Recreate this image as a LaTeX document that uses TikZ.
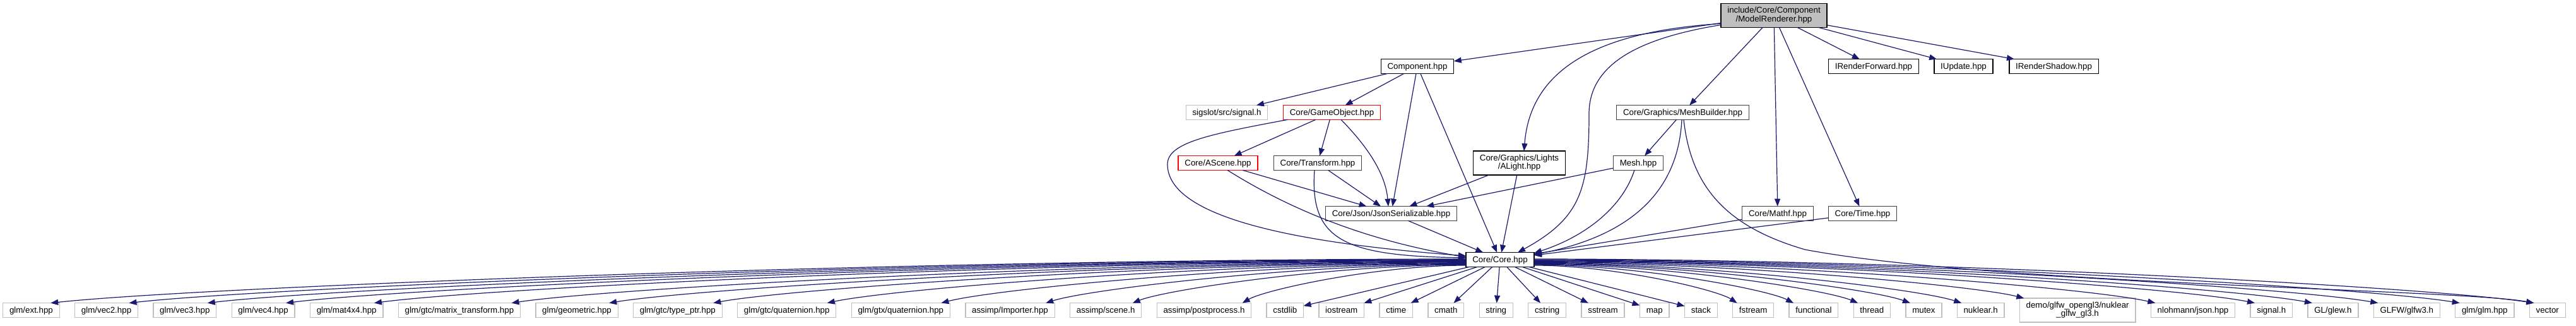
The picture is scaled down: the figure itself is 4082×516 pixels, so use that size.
\documentclass[tikz,border=0pt]{standalone}
\usepackage{fontspec}
\newfontfamily\dfont{Liberation Sans}
\usetikzlibrary{arrows.meta,positioning,calc}
\definecolor{edgeblue}{HTML}{191970}
\definecolor{grey75}{HTML}{BFBFBF}
\definecolor{dkgray}{HTML}{404040}
\newcommand\nodefont{\dfont\fontsize{13.33}{13}\selectfont}
\newcommand\twol[2]{\begin{tabular}{@{}c@{}}#1\\#2\end{tabular}}
\begin{document}
\begin{tikzpicture}[x=1pt,y=1pt,
  base/.style={draw, line width=1.33pt, fill=white, inner xsep=10.3pt, inner ysep=5.35pt, outer sep=0pt, font=\nodefont},
  one/.style={base, minimum height=22.7pt, text height=9.4pt, text depth=0pt},
  two/.style={base},
  blk/.style={draw=black},
  dk/.style={draw=dkgray},
  xnode/.style={draw=grey75},
  trunc/.style={draw=red},
  root/.style={draw=black, fill=grey75},
  dep/.style={draw=edgeblue, line width=1.2pt, -{Triangle[length=12pt,width=9pt]}}
]
\fill[white] (0,0) rectangle (4082,516);
\useasboundingbox (0,0) rectangle (4082,516);

% ---- upper nodes
\node[two,root] (mr) at (2811,491.5) {\twol{include/Core/Component}{/ModelRenderer.hpp}};
\node[one,blk] (comp) at (2246,411) {Component.hpp};
\node[one,blk] (irf) at (2969,411) {IRenderForward.hpp};
\node[one,blk] (iup) at (3111.5,411) {IUpdate.hpp};
\node[one,blk] (irs) at (3254.5,411) {IRenderShadow.hpp};
\node[one,xnode] (sig) at (1944,338) {sigslot/src/signal.h};
\node[one,trunc] (go) at (2110.5,338) {Core/GameObject.hpp};
\node[one,dk] (mb) at (2666.5,338) {Core/Graphics/MeshBuilder.hpp};
\node[one,trunc] (asc) at (1930,258) {Core/AScene.hpp};
\node[one,dk] (tr) at (2088,258) {Core/Transform.hpp};
\node[two,blk] (al) at (2407.5,258) {\twol{Core/Graphics/Lights}{/ALight.hpp}};
\node[one,dk] (mesh) at (2596,258) {Mesh.hpp};
\node[one,dk] (js) at (2204.5,178) {Core/Json/JsonSerializable.hpp};
\node[one,dk] (mf) at (2817,178) {Core/Mathf.hpp};
\node[one,dk] (tm) at (2951.5,178) {Core/Time.hpp};
\node[one,blk] (core) at (2377,105) {Core/Core.hpp};

% ---- bottom row
\node[one,xnode,anchor=west] (b1) at (4.7,25) {glm/ext.hpp};
\node[one,xnode,right=24.4pt of b1] (b2) {glm/vec2.hpp};
\node[one,xnode,right=24.4pt of b2] (b3) {glm/vec3.hpp};
\node[one,xnode,right=24.4pt of b3] (b4) {glm/vec4.hpp};
\node[one,xnode,right=24.4pt of b4] (b5) {glm/mat4x4.hpp};
\node[one,xnode,right=24.4pt of b5] (b6) {glm/gtc/matrix\_transform.hpp};
\node[one,xnode,right=24.4pt of b6] (b7) {glm/geometric.hpp};
\node[one,xnode,right=24.4pt of b7] (b8) {glm/gtc/type\_ptr.hpp};
\node[one,xnode,right=24.4pt of b8] (b9) {glm/gtc/quaternion.hpp};
\node[one,xnode,right=24.4pt of b9] (b10) {glm/gtx/quaternion.hpp};
\node[one,xnode,right=24.4pt of b10] (b11) {assimp/Importer.hpp};
\node[one,xnode,right=24.4pt of b11] (b12) {assimp/scene.h};
\node[one,xnode,right=24.4pt of b12] (b13) {assimp/postprocess.h};
\node[one,xnode,right=24.4pt of b13] (b14) {cstdlib};
\node[one,xnode,right=24.4pt of b14] (b15) {iostream};
\node[one,xnode,right=24.4pt of b15] (b16) {ctime};
\node[one,xnode,right=24.4pt of b16] (b17) {cmath};
\node[one,xnode,right=24.4pt of b17] (b18) {string};
\node[one,xnode,right=24.4pt of b18] (b19) {cstring};
\node[one,xnode,right=24.4pt of b19] (b20) {sstream};
\node[one,xnode,right=24.4pt of b20,minimum width=46.7pt] (b21) {map};
\node[one,xnode,right=24.4pt of b21] (b22) {stack};
\node[one,xnode,right=24.4pt of b22] (b23) {fstream};
\node[one,xnode,right=24.4pt of b23] (b24) {functional};
\node[one,xnode,right=24.4pt of b24] (b25) {thread};
\node[one,xnode,right=24.4pt of b25] (b26) {mutex};
\node[one,xnode,right=24.4pt of b26] (b27) {nuklear.h};
\node[two,xnode,right=24.4pt of b27] (b28) {\twol{demo/glfw\_opengl3/nuklear}{\_glfw\_gl3.h}};
\node[one,xnode,right=24.4pt of b28] (b29) {nlohmann/json.hpp};
\node[one,xnode,right=24.4pt of b29] (b30) {signal.h};
\node[one,xnode,right=24.4pt of b30] (b31) {GL/glew.h};
\node[one,xnode,right=24.4pt of b31] (b32) {GLFW/glfw3.h};
\node[one,xnode,right=24.4pt of b32] (b33) {glm/glm.hpp};
\node[one,xnode,right=24.4pt of b33] (b34) {vector};

% ---- edges from ModelRenderer
\draw[dep] (mr) -- (comp);
\draw[dep] (mr) -- (irf);
\draw[dep] (mr) -- (iup);
\draw[dep] (mr) -- (irs);
\draw[dep] (mr) -- (mb);
\draw[dep] (mr) -- (mf);
\draw[dep] (mr) -- (tm);
\draw[dep] ($(mr.south west)+(0,6)$) .. controls (2530,466) and (2425,406) .. ($(al.north)+(7.5,0)$);
\draw[dep] ($(mr.south west)+(0,4)$) .. controls (2600,456) and (2518,416) .. (2518,336)
   .. controls (2518,216) and (2505,171) .. ($(core.north)+(28,0)$);

% ---- Component
\draw[dep] (comp) -- (sig);
\draw[dep] (comp) -- (go);
\draw[dep] (comp) -- (js);
\draw[dep] (comp) -- (core);

% ---- GameObject
\draw[dep] (go) -- (asc);
\draw[dep] (go) -- (tr);
\draw[dep] ($(go.south)+(14.5,0)$) .. controls (2160,291) and (2195,246) .. ($(js.north)+(-4.5,0)$);
\draw[dep] ($(go.south west)+(7,0)$) .. controls (1920,304) and (1850,291) .. (1850,256)
   .. controls (1850,186) and (1990,136) .. ($(core.west)+(0,6)$);

% ---- AScene, Transform
\draw[dep] (asc) -- (js);
\draw[dep] ($(asc.south)+(15,0)$) .. controls (2010,206) and (2130,141) .. ($(core.west)+(0,4)$);
\draw[dep] (tr) -- (js);
\draw[dep] ($(tr.south)+(-5,0)$) .. controls (2075,136) and (2130,111) .. ($(core.west)+(0,3)$);

% ---- ALight, Mesh, MeshBuilder
\draw[dep] (al) -- (js);
\draw[dep] (al) -- (core);
\draw[dep] (mesh) -- (js);
\draw[dep] ($(mesh.south)+(-6,0)$) .. controls (2570,186) and (2510,141) .. ($(core.north east)+(0,-1)$);
\draw[dep] (mb) -- (mesh);
\draw[dep] ($(mb.south)+(-1.5,0)$) .. controls (2660,226) and (2600,146) .. ($(core.east)+(0,8)$);
\draw[dep] ($(mb.south)+(1.5,0)$) .. controls (2680,216) and (2740,156) .. (2860,121)
   .. controls (3150,66) and (3900,58) .. ($(b34.north west)+(7,0)$);

% ---- Mathf, Time, JsonSerializable
\draw[dep] (mf) -- (core);
\draw[dep] (tm) -- (core);
\draw[dep] (js) -- (core);

% ---- Core fan
\foreach \tg/\dy in {b1/1,b2/0.2,b3/-0.7,b4/-1.5,b5/-2.3,b6/-3.2,b7/-4,b8/-4.8,b9/-5.7,b10/-6.5,b11/-7.3,b12/-8.2,b13/-9}{
  \draw[dep] let \p1=($(core.west)+(0,\dy)$), \p2=($(\tg.north east)+(-14,0)$), \n1={\x1-\x2}, \n2={\y1-\y2} in
    (\p1) .. controls ($(\p1)+(-0.4*\n1,0)$) and ($(\p2)+(0.1*\n1,0.35*\n2)$) .. (\p2);
}
\foreach \i in {14,...,22}{
  \draw[dep] (core) -- (b\i);
}
\foreach \tg/\dy in {b23/-9,b24/-8.1,b25/-7.2,b26/-6.3,b27/-5.4,b28/-4.5,b29/-3.6,b30/-2.7,b31/-1.8,b32/-0.9,b33/0,b34/1}{
  \draw[dep] let \p1=($(core.east)+(0,\dy)$), \p2=($(\tg.north west)+(7,0)$), \n1={\x2-\x1}, \n2={\y1-\y2} in
    (\p1) .. controls ($(\p1)+(0.4*\n1,0)$) and ($(\p2)+(-0.1*\n1,0.35*\n2)$) .. (\p2);
}
\end{tikzpicture}
\end{document}
